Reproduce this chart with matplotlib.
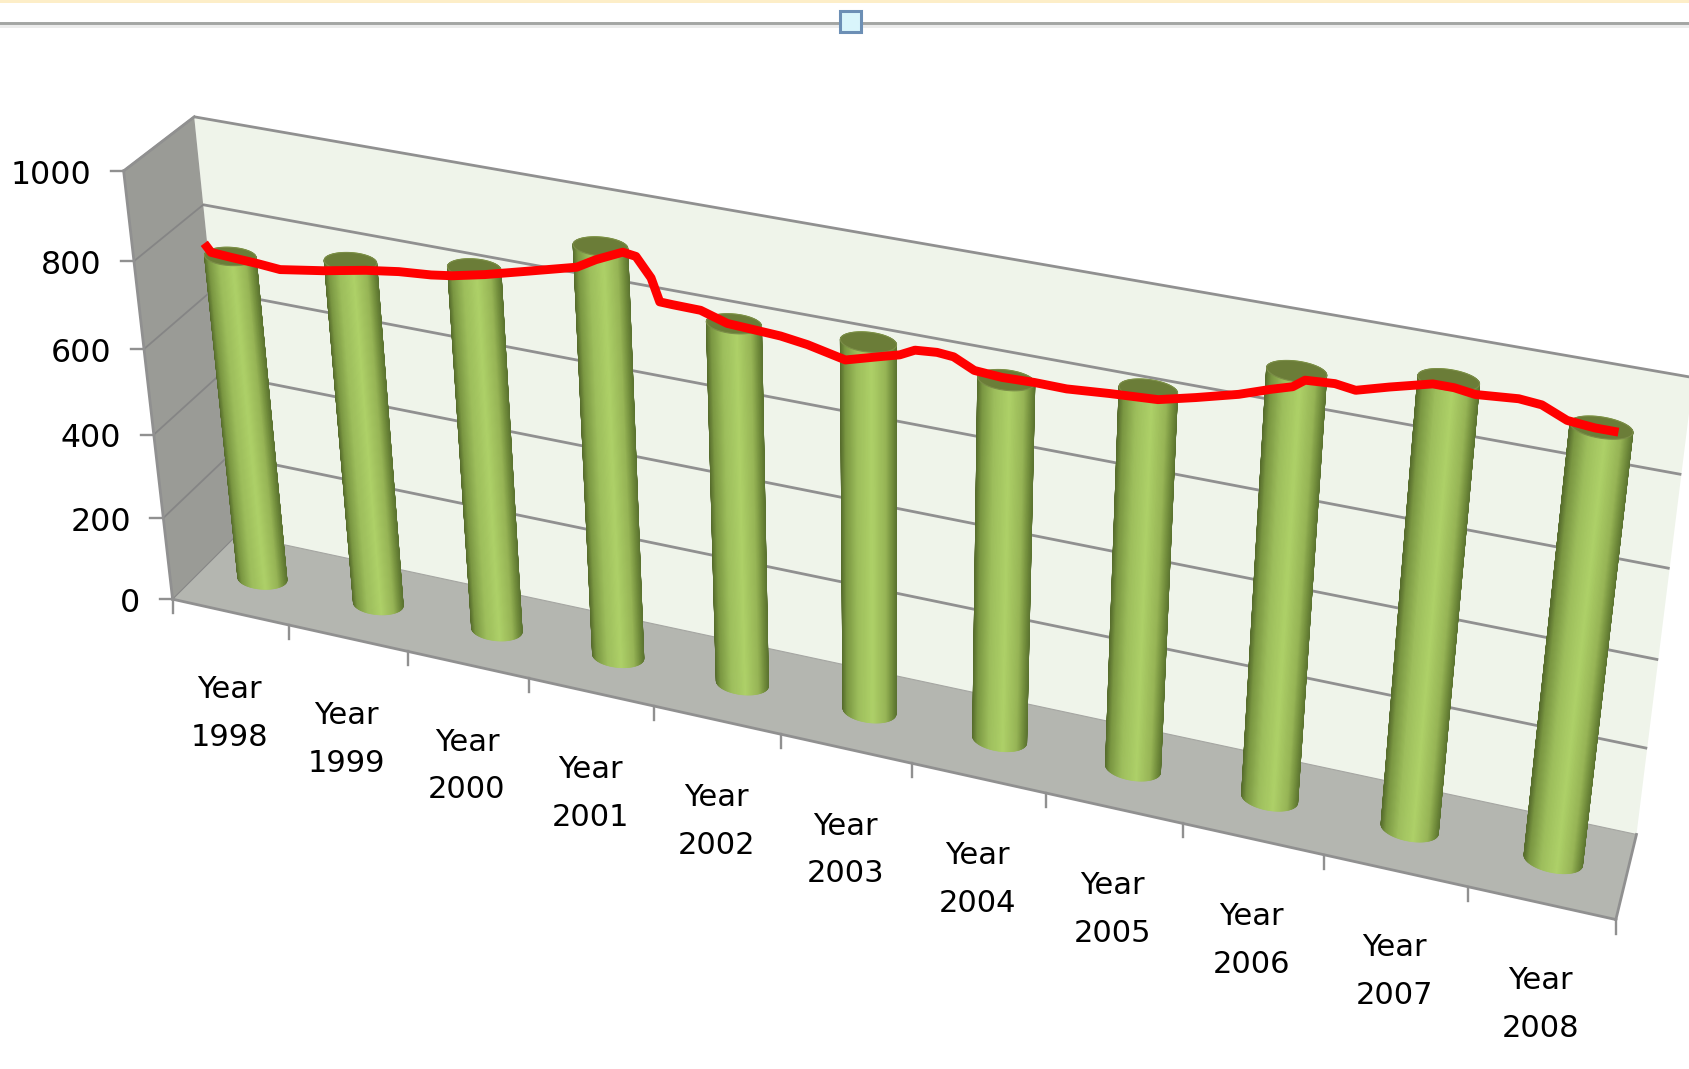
import numpy as np
import matplotlib
matplotlib.use("Agg")
import matplotlib.pyplot as plt
from matplotlib.collections import PolyCollection
from matplotlib.colors import LinearSegmentedColormap
from matplotlib.patches import Polygon, Rectangle

# ---- data ----
years = ["1998","1999","2000","2001","2002","2003","2004","2005","2006","2007","2008"]
bar_values = [771,810,847,946,830,844,817,852,946,984,943]
tick_values = [0,200,400,600,800,1000]
# hand-drawn red line: category position and value on the plane of the bars
line_x = [0.29,0.34,0.51,0.73,0.91,1.27,1.62,1.89,2.15,2.32,
          2.58,2.92,3.31,3.46,3.67,3.77,3.88,3.94,4.04,4.25,
          4.45,4.65,4.85,5.05,5.33,5.57,5.73,5.84,6.00,6.12,
          6.27,6.47,6.70,6.93,7.23,7.57,7.83,8.12,8.34,8.48,
          8.56,8.76,8.90,9.12,9.40,9.54,9.68,9.96,10.11,10.28,
          10.46,10.61]
line_y = [790,772,769,766,762,778,797,808,814,821,
          837,862,891,915,942,938,897,848,847,846,
          828,825,822,814,796,816,829,845,849,846,
          825,821,823,822,829,835,854,877,900,913,
          931,935,929,948,970,970,964,971,967,945,
          940,940]

# ---- layout: box calibration (category, value, depth) -> picture position ----
calib_3d = np.array([(0,0,0),(0,1000,0),(0,0,1),(0,1000,1),(11,0,1),(11,1000,1),(11,0,0),(5,0,0),(0,400,0)],float)
calib_2d = np.array([(163,555),(113,160),(218,500),(182,107),(1520,770),(1572,352),(1500,856),(724,682),(143,400)],float)

def fit(c3, c2):
    A = []
    for (x,y,z),(a,b) in zip(c3,c2):
        x /= 10; y /= 1000
        A.append([x,y,z,1,0,0,0,0,-a*x,-a*y,-a*z,-a])
        A.append([0,0,0,0,x,y,z,1,-b*x,-b*y,-b*z,-b])
    return np.linalg.svd(np.array(A))[2][-1].reshape(3,4)
M = fit(calib_3d, calib_2d)

def P(x, y, z):
    x, y, z = np.broadcast_arrays(np.asarray(x,float)/10, np.asarray(y,float)/1000, np.asarray(z,float))
    h = M @ np.array([x, y, z, np.ones_like(x)])
    return np.array([h[0]/h[2], h[1]/h[2]]).T

fig = plt.figure(figsize=(16.89,10.69), dpi=100, facecolor="white")
ax = fig.add_axes([0,0,1,1])
ax.set_xlim(0,1568); ax.set_ylim(992,0); ax.axis("off")

# window chrome above the chart
ax.add_patch(Rectangle((0,0),1568,2.5,fc="#fdeec8",ec="none"))
ax.add_patch(Rectangle((0,23),1568,3,fc="#ececec",ec="none"))
ax.plot([0,1568],[21.5,21.5],color="#a3a5a3",lw=2.1)
ax.add_patch(Rectangle((780,10.5),19,19.5,fc="#d9f5fb",ec="#6c8fb5",lw=2.2,zorder=3))

# walls and floor
GRID="#909090"
ax.add_patch(Polygon(P([0,11,11,0],[0,0,1000,1000],1),fc="#eff4ea",ec="none"))
ax.add_patch(Polygon(P(0,[0,0,1000,1000],[0,1,1,0]),fc="#9a9b96",ec="none"))
ax.add_patch(Polygon(P([0,11,11,0],0,[0,0,1,1]),fc="#b4b6b0",ec="none"))
for v in tick_values:
    a,b,c = P([0,0,11],v,[0,1,1])
    lw = 2.0 if v else 0.8
    ax.plot([b[0],c[0]],[b[1],c[1]],color=GRID if v else "#a5a6a2",lw=lw,solid_capstyle="butt")
    ax.plot([a[0],b[0]],[a[1],b[1]],color="#858585",lw=1.3 if v else 0.8)
    ax.plot([a[0]-12,a[0]],[a[1],a[1]],color=GRID,lw=1.7)
    ax.text(a[0]-30,a[1]+4,str(v),ha="right",va="center",fontsize=22.8,color="black")
for p,q in [((0,0,0),(0,1000,0)),((0,0,0),(11,0,0)),((11,0,0),(11,0,1)),((0,1000,0),(0,1000,1))]:
    s = P(*np.array([p,q],float).T)
    ax.plot(s[:,0],s[:,1],color=GRID,lw=2.0)
for i in range(len(years)+1):
    x0,y0 = P(i,0,0)
    ax.plot([x0,x0],[y0,y0+13],color=GRID,lw=1.7)

# cylinders
cmap = LinearSegmentedColormap.from_list("cyl",[(0,"#566c2c"),(0.09,"#7a9742"),(0.3,"#9dbe5c"),(0.55,"#aed168"),(0.8,"#97b556"),(0.93,"#6f8a3a"),(1,"#5b7330")])
RX, RW, ZC = 0.2, 0.14, 0.5
theta = np.linspace(0,2*np.pi,145)
for i,val in enumerate(bar_values):
    cx = i+0.5
    ux = cx+RX*np.cos(theta); wz = ZC+RW*np.sin(theta)
    top = P(ux,val,wz); bot = P(ux,0,wz)
    polys=[];cols=[]
    tmin,tmax = top[:,0].min(),top[:,0].max()
    order = np.argsort(-(wz[:-1]+wz[1:]))
    for k in order:
        polys.append([top[k],top[k+1],bot[k+1],bot[k]])
        cols.append(cmap(((top[k,0]+top[k+1,0])/2-tmin)/(tmax-tmin)))
    ax.add_collection(PolyCollection(polys,facecolors=cols,edgecolors=cols,linewidths=0.6,zorder=4))
    ax.add_patch(Polygon(top,fc="#6b7d38",ec="#7b8d48",lw=0.8,zorder=5))

# red freehand line
r = P(line_x,line_y,0.5)
ax.plot(r[:,0],r[:,1],color="#ff0000",lw=6.4,solid_joinstyle="round",solid_capstyle="butt",zorder=6)

# category labels
for i,y in enumerate(years):
    x0,y0 = P(i+0.5,0,0)
    ax.text(x0-1,y0+94,"Year\n"+y,ha="center",va="center",fontsize=22,linespacing=1.82,color="black",zorder=7)

fig.savefig("out.png",dpi=100)
